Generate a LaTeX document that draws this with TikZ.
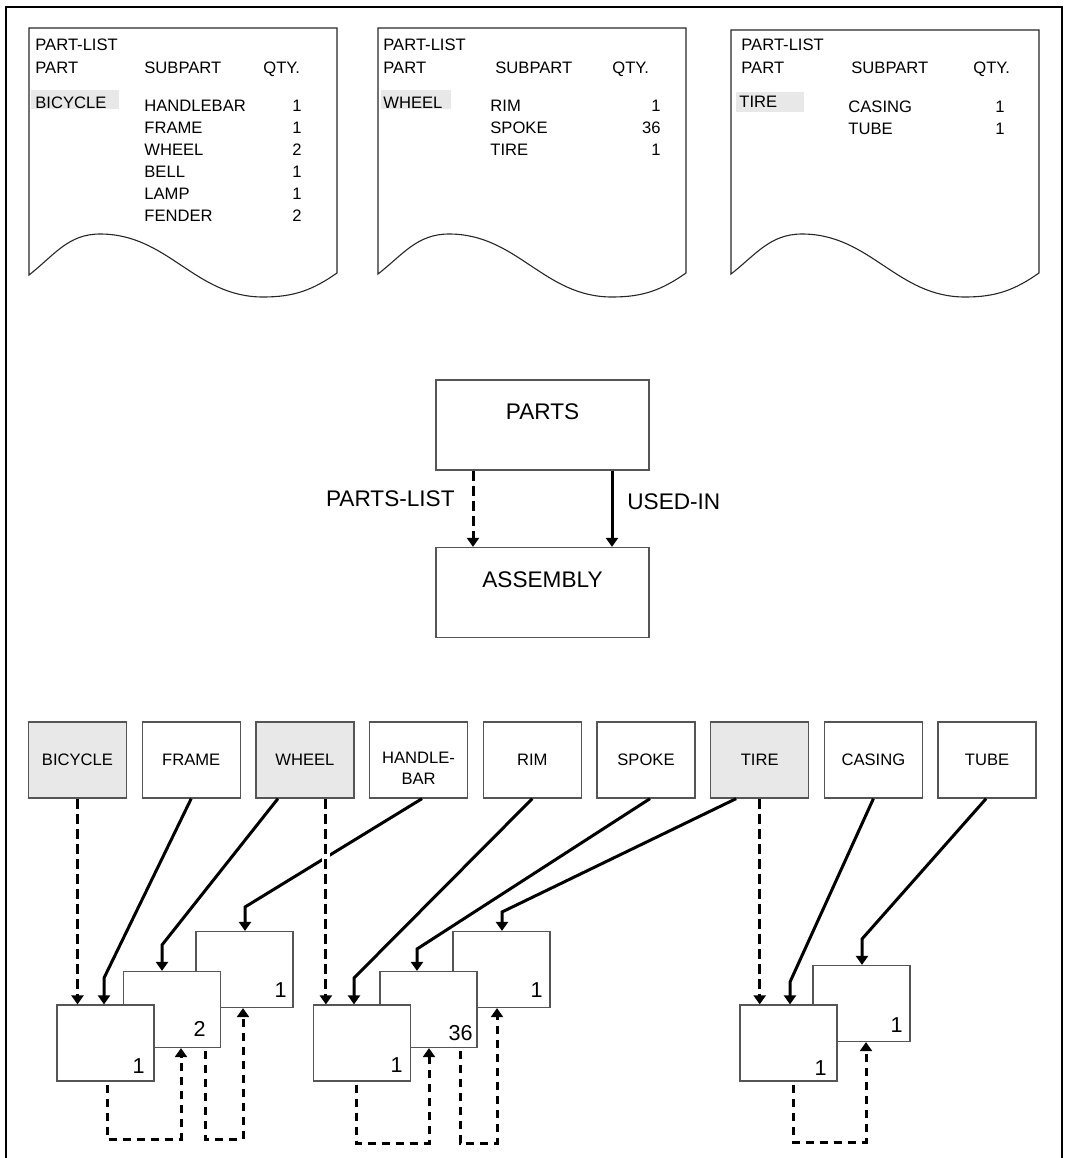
\documentclass[tikz,border=0pt]{standalone}
\usepackage{fontspec}
\setmainfont{Liberation Sans}
\usetikzlibrary{arrows.meta}
\definecolor{hl}{RGB}{232,232,232}
\definecolor{edge}{RGB}{85,85,85}
\begin{document}
\begin{tikzpicture}[x=0.5pt,y=-0.5pt,
  every node/.style={font=\fontsize{8.3}{10.5}\selectfont, inner sep=0pt},
  big/.style={font=\fontsize{11.3}{13}\selectfont},
  txt/.style={anchor=base west},
  num/.style={anchor=base east},
  sheet/.style={draw=black!85, line width=0.55pt},
  topbox/.style={draw=edge, line width=0.65pt, minimum width=49pt, minimum height=38pt},
  key/.style={topbox, fill=hl},
  rec/.style={draw=edge, fill=white, line width=0.6pt, minimum width=48.5pt, minimum height=38pt},
  qty/.style={anchor=base east, font=\fontsize{10.8}{12}\selectfont},
  ent/.style={draw=edge, line width=0.65pt, minimum width=106.5pt, minimum height=45pt},
  link/.style={line width=1.5pt, -{Triangle[width=6pt,length=4.5pt]}},
  dlink/.style={link, dash pattern=on 5pt off 2.5pt},
  chain/.style={link, dash pattern=on 4pt off 3pt}
]
\useasboundingbox (0,0) rectangle (1067,1158);

% outer frame
\draw[line width=0.7pt] (6,1158) -- (6,7) -- (1062,7) -- (1062,1158);

% ---------- part-list sheets ----------
\draw[sheet] (337,273) -- (337,28) -- (29,28) -- (29,275)
  to[out=38,in=180] (100,234) to[out=0,in=180] (263,297) to[out=0,in=215] (337,273);
\draw[sheet] (686,273) -- (686,28) -- (378,28) -- (378,274)
  to[out=38,in=180] (449,234) to[out=0,in=180] (612,297) to[out=0,in=215] (686,273);
\draw[sheet] (1039,273) -- (1039,30) -- (731,30) -- (731,274)
  to[out=38,in=180] (802,234) to[out=0,in=180] (965,297) to[out=0,in=215] (1039,273);

% sheet 1
\node[txt] (s1title) at (35,50) {PART-LIST};
\node[txt] (s1part) at (35,73) {PART};
\node[txt] (s1sub) at (144,73) {SUBPART};
\node[txt] (s1qty) at (263,73) {QTY.};
\fill[hl] (31,90) rectangle (119,109);
\node[txt] (s1key) at (35,108) {BICYCLE};
\foreach \p/\q [count=\k] in {HANDLEBAR/1,FRAME/1,WHEEL/2,BELL/1,LAMP/1,FENDER/2}{
  \node[txt] (s1p\k) at (144,{111+22*(\k-1)}) {\p};
  \node[num] (s1q\k) at (302,{111+22*(\k-1)}) {\q};
}

% sheet 2
\node[txt] (s2title) at (383,50) {PART-LIST};
\node[txt] (s2part) at (383,73) {PART};
\node[txt] (s2sub) at (495,73) {SUBPART};
\node[txt] (s2qty) at (612,73) {QTY.};
\fill[hl] (381,90) rectangle (451,109);
\node[txt] (s2key) at (383,108) {WHEEL};
\foreach \p/\q [count=\k] in {RIM/1,SPOKE/36,TIRE/1}{
  \node[txt] (s2p\k) at (490,{111+22*(\k-1)}) {\p};
  \node[num] (s2q\k) at (661,{111+22*(\k-1)}) {\q};
}

% sheet 3
\node[txt] (s3title) at (741,50) {PART-LIST};
\node[txt] (s3part) at (741,73) {PART};
\node[txt] (s3sub) at (851,73) {SUBPART};
\node[txt] (s3qty) at (973,73) {QTY.};
\fill[hl] (736,92) rectangle (804,112);
\node[txt] (s3key) at (739,107) {TIRE};
\foreach \p/\q [count=\k] in {CASING/1,TUBE/1}{
  \node[txt] (s3p\k) at (848,{112+22*(\k-1)}) {\p};
  \node[num] (s3q\k) at (1005,{112+22*(\k-1)}) {\q};
}

% ---------- schema ----------
\node[ent] (parts) at (542.5,425) {};
\node[big, anchor=base] (partstxt) at (542.5,419) {PARTS};
\node[ent] (assembly) at (542.5,592.5) {};
\node[big, anchor=base] (assemblytxt) at (542.5,587) {ASSEMBLY};
\draw[dlink] ([xshift=-34.75pt]parts.south) -- ([xshift=-34.75pt]assembly.north);
\draw[link] ([xshift=34.75pt]parts.south) -- ([xshift=34.75pt]assembly.north);
\node[big, anchor=base east] (plabel) at (455,506) {PARTS-LIST};
\node[big, anchor=base west] (ulabel) at (627,509) {USED-IN};

% ---------- occurrences ----------
\node[key]    (bicycle)   at (77.5,760) {BICYCLE};
\node[topbox] (frame)     at (191.2,760) {FRAME};
\node[key]    (wheel)     at (304.9,760) {WHEEL};
\node[topbox] (handlebar) at (418.6,760) {};
\node[align=center] (handlebartxt) at ([yshift=-4pt]handlebar.center) {HANDLE-\\BAR};
\node[topbox] (rim)       at (532.3,760) {RIM};
\node[topbox] (spoke)     at (646,760) {SPOKE};
\node[key]    (tire)      at (759.7,760) {TIRE};
\node[topbox] (casing)    at (873.4,760) {CASING};
\node[topbox] (tube)      at (987.1,760) {TUBE};

% assembly records, back to front
\node[rec] (a3) at (244.5,969.5) {};
\node[rec] (a2) at (172,1009.5) {};
\node[rec] (a1) at (105.5,1043) {};
\node[rec] (b3) at (501.5,969.5) {};
\node[rec] (b2) at (428.5,1009.5) {};
\node[rec] (b1) at (362,1043) {};
\node[rec] (c2) at (861.5,1003.5) {};
\node[rec] (c1) at (788.5,1043) {};

\node[qty] (a1q) at (145,1073) {1};
\node[qty] (a2q) at (206,1036) {2};
\node[qty] (a3q) at (287,997) {1};
\node[qty] (b1q) at (403,1072) {1};
\node[qty] (b2q) at (473,1040) {36};
\node[qty] (b3q) at (543,997) {1};
\node[qty] (c1q) at (827,1075) {1};
\node[qty] (c2q) at (903,1032) {1};

% bend points of the used-in connectors
\coordinate (kframe) at (104,978);
\coordinate (kwheel) at (162,945);
\coordinate (khandle) at (245,907);
\coordinate (krim) at (354,978);
\coordinate (kspoke) at (417,949);
\coordinate (ktire) at (502,912);
\coordinate (kcasing) at (790,982);
\coordinate (ktube) at (862,939);

% used-in connectors
\draw[link] (frame.south) -- (kframe) -- (kframe |- a1.north);
\draw[link] ([xshift=-13.5pt]wheel.south) -- (kwheel) -- (kwheel |- a2.north);
\draw[link] ([xshift=1.7pt]handlebar.south) -- (khandle) -- (khandle |- a3.north);
\draw[link] (rim.south) -- (krim) -- (krim |- b1.north);
\draw[link] ([xshift=2pt]spoke.south) -- (kspoke) -- (kspoke |- b2.north);
\draw[link] ([xshift=-11.8pt]tire.south) -- (ktire) -- (ktire |- b3.north);
\draw[link] (casing.south) -- (kcasing) -- (kcasing |- c1.north);
\draw[link] ([xshift=-0.5pt]tube.south) -- (ktube) -- (ktube |- c2.north);

% gap where the handlebar line passes under the wheel list line
\coordinate (gapc) at (326,857);
\draw[white, line width=4pt] ([yshift=5pt]gapc) -- ([yshift=-5pt]gapc);

% parts-list connectors
\draw[dlink] (bicycle.south) -- (bicycle.south |- a1.north);
\draw[dlink] ([xshift=10.5pt]wheel.south) -- ([xshift=10.5pt]wheel.south |- b1.north);
\draw[dlink] (tire.south) -- (tire.south |- c1.north);

% next-record chains
\coordinate (ca1) at (107,1139);
\coordinate (ca2) at (181,1139);
\coordinate (ca3) at (205,1139);
\coordinate (ca4) at (243,1139);
\coordinate (cb1) at (356,1143);
\coordinate (cb2) at (429,1143);
\coordinate (cb3) at (460,1143);
\coordinate (cb4) at (497,1143);
\coordinate (cc1) at (793,1142);
\coordinate (cc2) at (866,1142);
\draw[chain, shorten <=1.5pt] (ca1 |- a1.south) -- (ca1) -- (ca2) -- (ca2 |- a2.south);
\draw[chain, shorten <=1.5pt] (ca3 |- a2.south) -- (ca3) -- (ca4) -- (ca4 |- a3.south);
\draw[chain, shorten <=1.5pt] (cb1 |- b1.south) -- (cb1) -- (cb2) -- (cb2 |- b2.south);
\draw[chain, shorten <=1.5pt] (cb3 |- b2.south) -- (cb3) -- (cb4) -- (cb4 |- b3.south);
\draw[chain, shorten <=1.5pt] (cc1 |- c1.south) -- (cc1) -- (cc2) -- (cc2 |- c2.south);
\end{tikzpicture}
\end{document}
